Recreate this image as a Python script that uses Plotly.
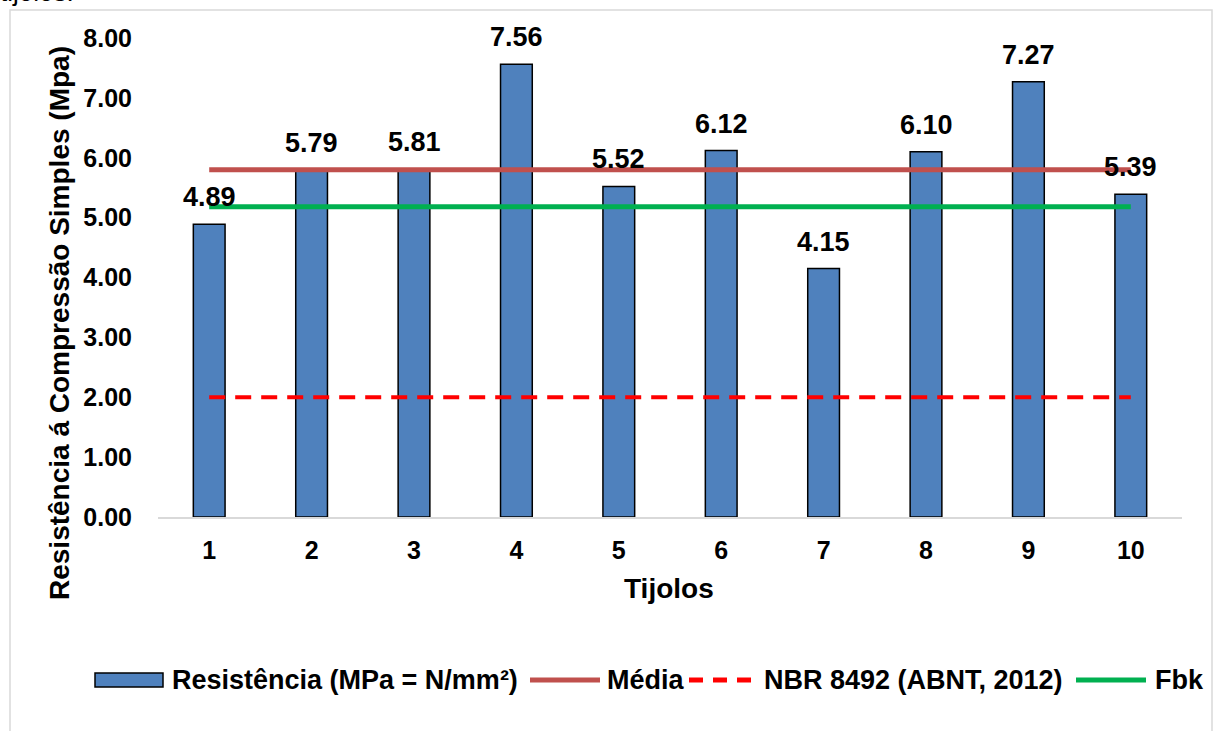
import plotly.graph_objects as go

tijolos = [1, 2, 3, 4, 5, 6, 7, 8, 9, 10]
resistencia = [4.89, 5.79, 5.81, 7.56, 5.52, 6.12, 4.15, 6.10, 7.27, 5.39]
media = 5.80
fbk = 5.18
nbr = 2.00
y_ticks = [0, 1, 2, 3, 4, 5, 6, 7, 8]

W, H = 1214, 731
L, R, T, B = 158, 32, 38, 214
PW, PH = W - L - R, H - T - B

def px(x):
    return (x - L) / PW

def py(y):
    return (H - B - y) / PH

FONT = "Arial, Liberation Sans, sans-serif"

fig = go.Figure()
fig.add_trace(go.Bar(
    x=tijolos, y=resistencia, width=0.31,
    marker=dict(color="#4F81BD", line=dict(color="black", width=1.5)),
    showlegend=False,
))
fig.add_trace(go.Scatter(x=tijolos, y=[media] * len(tijolos), mode="lines",
                         line=dict(color="#C0504D", width=5), showlegend=False))
fig.add_trace(go.Scatter(x=tijolos, y=[nbr] * len(tijolos), mode="lines",
                         line=dict(color="#FF0000", width=4, dash="16px,10px"), showlegend=False))
fig.add_trace(go.Scatter(x=tijolos, y=[fbk] * len(tijolos), mode="lines",
                         line=dict(color="#00B050", width=5), showlegend=False))

annotations = []
for xi, v in zip(tijolos, resistencia):
    annotations.append(dict(x=xi, y=v, xref="x", yref="y", text=f"<b>{v:.2f}</b>",
                            showarrow=False, xanchor="center", yanchor="bottom", yshift=10,
                            font=dict(size=27, color="black", family=FONT)))

annotations.append(dict(x=px(59), y=py(323), xref="paper", yref="paper",
                        xanchor="center", yanchor="middle",
                        text="<b>Resistência á Compressão Simples (Mpa)</b>", textangle=-90,
                        showarrow=False, font=dict(size=28, color="black", family=FONT)))
annotations.append(dict(x=px(669), y=py(588), xref="paper", yref="paper",
                        xanchor="center", yanchor="middle",
                        text="<b>Tijolos</b>", showarrow=False,
                        font=dict(size=28, color="black", family=FONT)))
annotations.append(dict(x=px(-2), y=py(9), xref="paper", yref="paper", xanchor="left",
                        yanchor="bottom", text="tijolos.", showarrow=False,
                        font=dict(size=26, color="black", family=FONT)))

# legend (drawn manually)
leg_y = 680
leg_items = [
    (170, "<b>Resistência (MPa = N/mm²)</b>"),
    (605, "<b>Média</b>"),
    (762, "<b>NBR 8492 (ABNT, 2012)</b>"),
    (1153, "<b>Fbk</b>"),
]
for x0, txt in leg_items:
    annotations.append(dict(x=px(x0), y=py(leg_y), xref="paper", yref="paper",
                            xanchor="left", yanchor="middle",
                            text=txt, showarrow=False,
                            font=dict(size=27, color="black", family=FONT)))

shapes = [
    dict(type="rect", xref="paper", yref="paper", x0=px(10), x1=px(1212), y0=py(10), y1=py(760),
         line=dict(color="#D9D9D9", width=1.5), fillcolor="rgba(0,0,0,0)", layer="below"),
    dict(type="rect", xref="paper", yref="paper", x0=px(95), x1=px(163), y0=py(673), y1=py(687),
         line=dict(color="black", width=1.5), fillcolor="#4F81BD"),
    dict(type="line", xref="paper", yref="paper", x0=px(530), x1=px(600), y0=py(leg_y), y1=py(leg_y),
         line=dict(color="#C0504D", width=5)),
    dict(type="line", xref="paper", yref="paper", x0=px(1076), x1=px(1146), y0=py(leg_y), y1=py(leg_y),
         line=dict(color="#00B050", width=5)),
]
for d0 in (689, 713, 737):
    shapes.append(dict(type="line", xref="paper", yref="paper", x0=px(d0), x1=px(d0 + 14),
                       y0=py(leg_y), y1=py(leg_y), line=dict(color="#FF0000", width=5)))

fig.update_layout(
    width=W, height=H,
    margin=dict(l=L, r=R, t=T, b=B, autoexpand=False),
    paper_bgcolor="white", plot_bgcolor="white",
    font=dict(family=FONT, color="black"),
    annotations=annotations, shapes=shapes,
    showlegend=False,
)
fig.update_xaxes(range=[0.5, 10.5], tickvals=tijolos, ticktext=[f"<b>{t}</b>" for t in tijolos],
                 showgrid=False, showline=True, linecolor="#D9D9D9", linewidth=1.5,
                 ticks="", tickfont=dict(size=25), ticklabelstandoff=10, zeroline=False)
fig.update_yaxes(range=[0, 8], tickvals=y_ticks, ticktext=[f"<b>{t:.2f}</b>" for t in y_ticks],
                 showgrid=False, showline=False, zeroline=False, ticks="",
                 tickfont=dict(size=25), ticklabelstandoff=25)

fig.write_html("out.html", config={"displayModeBar": False},
               post_script="document.body.style.margin='0px';")
